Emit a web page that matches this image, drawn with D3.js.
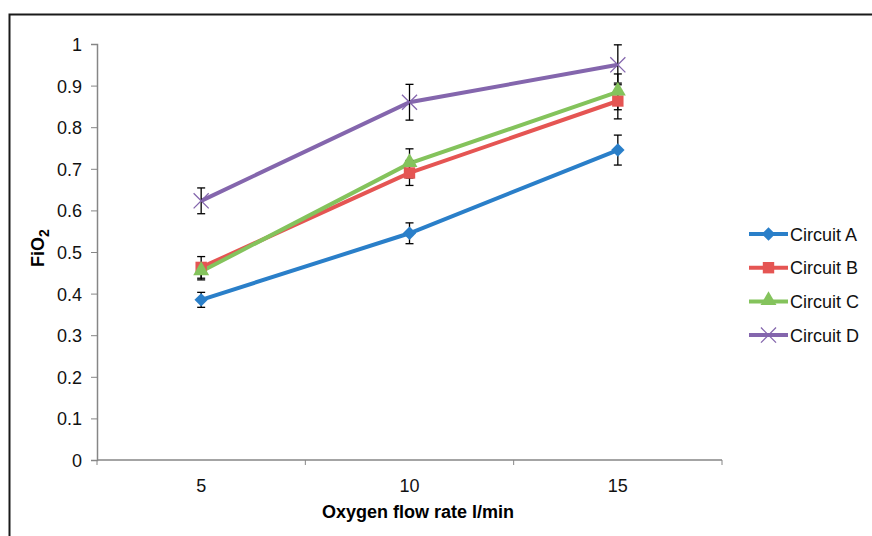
<!DOCTYPE html>
<html>
<head>
<meta charset="utf-8">
<script src="https://cdn.jsdelivr.net/npm/d3@7"></script>
<style>
  body { margin: 0; background: #fff; }
  text { font-family: "Liberation Sans", Arial, sans-serif; }
</style>
</head>
<body>
<div id="chart"></div>
<script>
// data
var flowRates = ["5", "10", "15"];
var seriesNames = ["Circuit A", "Circuit B", "Circuit C", "Circuit D"];
var circuitA = [0.385, 0.545, 0.745];
var circuitB = [0.463, 0.69, 0.863];
var circuitC = [0.453, 0.713, 0.885];
var circuitD = [0.623, 0.86, 0.95];
var errA = [0.018, 0.025, 0.036];
var errB = [0.026, 0.03, 0.043];
var errC = [0.02, 0.035, 0.043];
var errD = [0.031, 0.043, 0.048];
var yTicks = [0, 0.1, 0.2, 0.3, 0.4, 0.5, 0.6, 0.7, 0.8, 0.9, 1];

var colors = ["#2a7fc9", "#e55553", "#84c35c", "#8466ad"];
var markers = ["diamond", "square", "triangle", "cross"];

function chart(){
  var W = 872, H = 536;
  var margin = {top: 44, left: 97};
  var width = 722 - 97, height = 460 - 44;
  var fs = 18;

  var svg = d3.select("#chart").append("svg")
      .attr("width", W).attr("height", H);

  // outer frame
  svg.append("rect")
    .attr("x", 9.5).attr("y", 14.5)
    .attr("width", W + 20).attr("height", H + 20)
    .attr("fill", "none").attr("stroke", "#1a1a1a").attr("stroke-width", 2);

  var g = svg.append("g")
    .attr("transform", "translate(" + margin.left + "," + margin.top + ")");

  var x = d3.scaleBand().domain(flowRates).range([0, width]);
  var y = d3.scaleLinear().domain([0, 1]).range([height, 0]);

  // y axis
  var yAxis = g.append("g")
    .call(d3.axisLeft(y).tickValues(yTicks).tickFormat(d3.format("~g")).tickSize(6).tickPadding(9));
  yAxis.attr("font-size", null).attr("font-family", null);
  yAxis.select(".domain").attr("stroke", "#868686").attr("stroke-width", 1.5);
  yAxis.selectAll(".tick line").attr("stroke", "#868686");
  yAxis.selectAll(".tick text").attr("font-size", fs).attr("fill", "#111").attr("dy", "0.36em");

  // x axis: ticks on band boundaries
  var xAxis = g.append("g").attr("transform", "translate(0," + height + ")");
  xAxis.append("line").attr("x1", 0).attr("x2", width)
    .attr("stroke", "#868686").attr("stroke-width", 1.5);
  var bounds = [0].concat(flowRates.map(function(d){ return x(d) + x.bandwidth(); }));
  xAxis.selectAll("line.tk").data(bounds).enter().append("line")
    .attr("class", "tk")
    .attr("x1", d => d).attr("x2", d => d)
    .attr("y1", 0).attr("y2", 5)
    .attr("stroke", "#868686");
  xAxis.selectAll("text").data(flowRates).enter().append("text")
    .attr("x", d => x(d) + x.bandwidth() / 2)
    .attr("y", 31.5)
    .attr("text-anchor", "middle")
    .attr("font-size", fs).attr("fill", "#111")
    .text(d => d);

  // axis titles
  svg.append("text")
    .attr("x", 418).attr("y", 518)
    .attr("text-anchor", "middle")
    .attr("font-size", fs).attr("font-weight", "bold")
    .text("Oxygen flow rate l/min");

  var yt = svg.append("text")
    .attr("transform", "translate(44,248) rotate(-90)")
    .attr("text-anchor", "middle")
    .attr("font-size", fs).attr("font-weight", "bold");
  yt.append("tspan").text("FiO");
  yt.append("tspan").attr("dy", 5).attr("font-size", 14).text("2");

  var values = [circuitA, circuitB, circuitC, circuitD];
  var errs = [errA, errB, errC, errD];

  var line = d3.line()
    .x(function(d, i){ return x(flowRates[i]) + x.bandwidth() / 2; })
    .y(function(d){ return y(d); });

  function drawMarker(sel, type, color, cx, cy){
    if (type === "diamond") {
      sel.append("path").attr("d", d3.symbol(d3.symbolSquare, 90)())
        .attr("transform", "translate(" + cx + "," + cy + ") rotate(45)").attr("fill", color);
    } else if (type === "square") {
      sel.append("path").attr("d", d3.symbol(d3.symbolSquare, 130)())
        .attr("transform", "translate(" + cx + "," + cy + ")").attr("fill", color);
    } else if (type === "triangle") {
      sel.append("path").attr("d", d3.symbol(d3.symbolTriangle, 110)())
        .attr("transform", "translate(" + cx + "," + (cy - 1) + ")").attr("fill", color);
    } else {
      sel.append("path").attr("d", d3.symbol(d3.symbolTimes, 150)())
        .attr("transform", "translate(" + cx + "," + cy + ")")
        .attr("fill", "none").attr("stroke", color).attr("stroke-width", 1.3);
    }
  }

  for (var s = 0; s < values.length; s++) {
    g.append("path")
      .datum(values[s])
      .attr("fill", "none")
      .attr("stroke", colors[s])
      .attr("stroke-width", 4)
      .attr("d", line);
  }

  // error bars
  for (var s = 0; s < values.length; s++) {
    values[s].forEach(function(v, i){
      var cx = x(flowRates[i]) + x.bandwidth() / 2;
      var e = errs[s][i];
      var eb = g.append("g").attr("stroke", "#000").attr("stroke-width", 1.3);
      eb.append("line").attr("x1", cx).attr("x2", cx).attr("y1", y(v + e)).attr("y2", y(v - e));
      eb.append("line").attr("x1", cx - 4).attr("x2", cx + 4).attr("y1", y(v + e)).attr("y2", y(v + e));
      eb.append("line").attr("x1", cx - 4).attr("x2", cx + 4).attr("y1", y(v - e)).attr("y2", y(v - e));
    });
  }

  for (var s = 0; s < values.length; s++) {
    values[s].forEach(function(v, i){
      drawMarker(g, markers[s], colors[s], x(flowRates[i]) + x.bandwidth() / 2, y(v));
    });
  }

  // legend
  var legend = svg.append("g");
  seriesNames.forEach(function(name, i){
    var ly = 234 + i * 33.7;
    legend.append("line").attr("x1", 749).attr("x2", 788)
      .attr("y1", ly).attr("y2", ly)
      .attr("stroke", colors[i]).attr("stroke-width", 4);
    drawMarker(legend, markers[i], colors[i], 768.5, ly);
    legend.append("text").attr("x", 790).attr("y", ly + 6.5)
      .attr("font-size", fs).attr("fill", "#111").text(name);
  });
}

chart();
</script>
</body>
</html>
